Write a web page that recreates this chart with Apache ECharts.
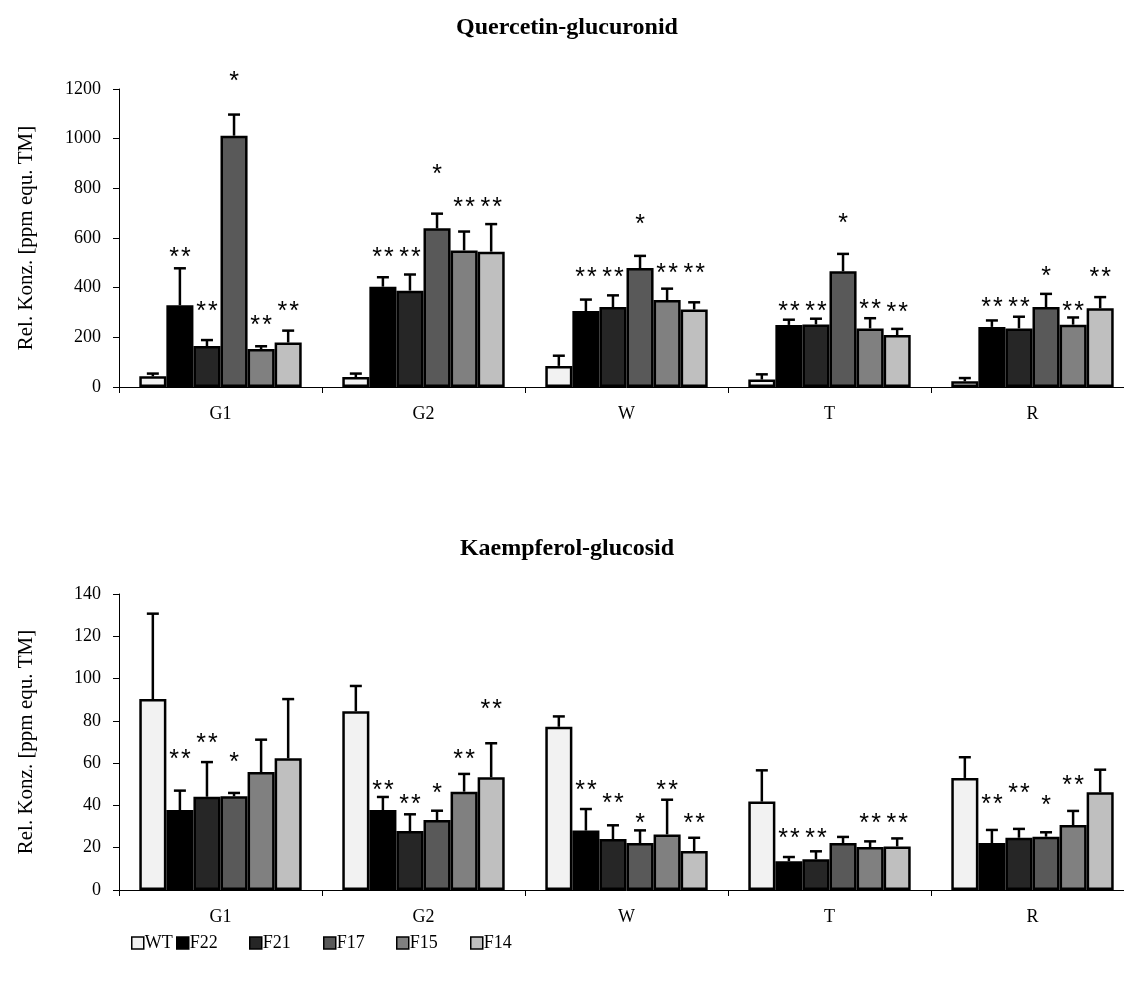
<!DOCTYPE html>
<html>
<head>
<meta charset="utf-8">
<script src="https://cdn.jsdelivr.net/npm/echarts@6/dist/echarts.min.js"></script>
<style>
html,body{margin:0;padding:0;background:#fff;overflow:hidden;}
#main{width:1134px;height:984px;}
</style>
</head>
<body>
<div id="main"></div>
<script>
// ---------- data ----------
const categories = ['G1', 'G2', 'W', 'T', 'R'];
const seriesNames = ['WT', 'F22', 'F21', 'F17', 'F15', 'F14'];
const yTicksTop = [0, 200, 400, 600, 800, 1000, 1200];
const yTicksBottom = [0, 20, 40, 60, 80, 100, 120, 140];

// Quercetin-glucuronid: means per line (across G1, G2, W, T, R)
const qWT  = [43, 40, 85, 30, 23];
const qF22 = [329, 404, 306, 250, 242];
const qF21 = [165, 388, 322, 252, 236];
const qF17 = [1012, 639, 479, 466, 322];
const qF15 = [153, 550, 350, 236, 251];
const qF14 = [179, 545, 312, 209, 317];
// standard deviations
const qWTsd  = [11, 14, 41, 21, 13];
const qF22sd = [149, 38, 46, 21, 26];
const qF21sd = [24, 65, 47, 23, 47];
const qF17sd = [85, 59, 49, 70, 53];
const qF15sd = [11, 76, 46, 41, 29];
const qF14sd = [48, 111, 29, 25, 45];
// significance marks and the level they are printed at
const qWTsig  = ['', '', '', '', ''];
const qF22sig = ['**', '**', '**', '**', '**'];
const qF21sig = ['**', '**', '**', '**', '**'];
const qF17sig = ['*', '*', '*', '*', '*'];
const qF15sig = ['**', '**', '**', '**', '**'];
const qF14sig = ['**', '**', '**', '**', '**'];
const qWTsigY  = [null, null, null, null, null];
const qF22sigY = [540, 540, 461, 322, 340];
const qF21sigY = [322, 540, 461, 322, 340];
const qF17sigY = [1248, 877, 674, 677, 465];
const qF15sigY = [269, 741, 477, 332, 322];
const qF14sigY = [322, 741, 477, 320, 461];

// Kaempferol-glucosid
const kWT  = [90.3, 84.5, 77.2, 41.8, 53.0];
const kF22 = [37.8, 37.8, 28.1, 13.6, 22.2];
const kF21 = [44.1, 27.9, 24.1, 14.5, 24.7];
const kF17 = [44.3, 33.1, 22.2, 22.2, 25.2];
const kF15 = [55.8, 46.5, 26.3, 20.3, 30.7];
const kF14 = [62.3, 53.3, 18.4, 20.6, 46.2];
const kWTsd  = [40.4, 12.0, 4.9, 14.8, 9.8];
const kF22sd = [9.2, 6.2, 10.2, 2.0, 6.2];
const kF21sd = [16.4, 7.9, 6.5, 3.8, 4.2];
const kF17sd = [1.6, 4.4, 6.0, 2.9, 2.1];
const kF15sd = [15.3, 8.4, 16.4, 2.7, 6.7];
const kF14sd = [28.0, 16.1, 6.3, 3.8, 10.7];
const kWTsig  = ['', '', '', '', ''];
const kF22sig = ['**', '**', '**', '**', '**'];
const kF21sig = ['**', '**', '**', '**', '**'];
const kF17sig = ['*', '*', '*', '', '*'];
const kF15sig = ['', '**', '**', '**', '**'];
const kF14sig = ['', '**', '**', '**', ''];
const kWTsigY  = [null, null, null, null, null];
const kF22sigY = [63.9, 49.2, 49.2, 26.8, 42.6];
const kF21sigY = [71.7, 42.6, 43.0, 26.8, 48.1];
const kF17sigY = [62.8, 48.1, 33.6, null, 42.2];
const kF15sigY = [null, 63.9, 49.2, 33.6, 51.6];
const kF14sigY = [null, 87.8, 33.6, 33.6, null];

// ---------- styling ----------
const colors = ['#f2f2f2', '#000000', '#262626', '#595959', '#808080', '#bfbfbf'];
const legendLeft = [131, 176, 249, 323, 396, 470];
const serif = '"Liberation Serif", "DejaVu Serif", serif';
const sans = '"Liberation Sans", Arial, sans-serif';
const catGap = 0.2; // barCategoryGap fraction
const starFont = 25;

const chartsDef = [
  {
    title: 'Quercetin-glucuronid',
    means: [qWT, qF22, qF21, qF17, qF15, qF14],
    sds: [qWTsd, qF22sd, qF21sd, qF17sd, qF15sd, qF14sd],
    sigs: [qWTsig, qF22sig, qF21sig, qF17sig, qF15sig, qF14sig],
    sigY: [qWTsigY, qF22sigY, qF21sigY, qF17sigY, qF15sigY, qF14sigY],
    ticks: yTicksTop,
    top: 89, height: 298, titleTop: 11
  },
  {
    title: 'Kaempferol-glucosid',
    means: [kWT, kF22, kF21, kF17, kF15, kF14],
    sds: [kWTsd, kF22sd, kF21sd, kF17sd, kF15sd, kF14sd],
    sigs: [kWTsig, kF22sig, kF21sig, kF17sig, kF15sig, kF14sig],
    sigY: [kWTsigY, kF22sigY, kF21sigY, kF17sigY, kF15sigY, kF14sigY],
    ticks: yTicksBottom,
    top: 594, height: 296, titleTop: 532
  }
];

const option = {
  animation: false,
  backgroundColor: '#ffffff',
  title: [],
  grid: [],
  xAxis: [],
  yAxis: [],
  legend: seriesNames.map((nm, i) => ({
    data: [nm],
    left: legendLeft[i],
    top: 934,
    padding: 0,
    itemWidth: 12,
    itemHeight: 12,
    icon: 'rect',
    itemStyle: { borderWidth: 1.5, borderColor: '#000' },
    textStyle: { fontFamily: serif, fontSize: 18, color: '#000', padding: [0, 0, 0, -4] }
  })),
  series: []
};

chartsDef.forEach((cd, gi) => {
  option.title.push({
    text: cd.title, left: 'center', top: cd.titleTop,
    textStyle: { fontFamily: serif, fontWeight: 'bold', fontSize: 24, color: '#000' }
  });
  option.grid.push({ left: 119, width: 1015, top: cd.top, height: cd.height, containLabel: false });
  option.xAxis.push({
    type: 'category', gridIndex: gi, data: categories,
    axisLine: { lineStyle: { color: '#000', width: 1 } },
    axisTick: { show: true, length: 6, lineStyle: { color: '#000' } },
    axisLabel: { fontFamily: serif, fontSize: 18, color: '#000', margin: 18 }
  });
  const tk = cd.ticks;
  option.yAxis.push({
    type: 'value', gridIndex: gi, min: tk[0], max: tk[tk.length - 1], interval: tk[1] - tk[0],
    name: 'Rel. Konz. [ppm equ. TM]', nameLocation: 'middle', nameGap: 82,
    nameTextStyle: { fontFamily: serif, fontSize: 21, color: '#000' },
    axisLine: { show: true, lineStyle: { color: '#000', width: 1 } },
    axisTick: { show: true, length: 6, lineStyle: { color: '#000' } },
    axisLabel: { fontFamily: serif, fontSize: 18, color: '#000', margin: 18, formatter: v => String(v) },
    splitLine: { show: false }
  });
  seriesNames.forEach((nm, si) => {
    option.series.push({
      type: 'bar', name: nm, xAxisIndex: gi, yAxisIndex: gi,
      data: cd.means[si],
      barGap: '0%', barCategoryGap: (catGap * 100) + '%',
      itemStyle: { color: colors[si], borderColor: '#000', borderWidth: 2.5 },
      z: 2
    });
  });
  // error bars + significance stars
  const items = [];
  seriesNames.forEach((nm, si) => {
    categories.forEach((c, ci) => {
      items.push({
        value: [ci, cd.means[si][ci], cd.means[si][ci] + cd.sds[si][ci], cd.sigY[si][ci] == null ? -1 : cd.sigY[si][ci], si],
        sig: cd.sigs[si][ci]
      });
    });
  });
  option.series.push({
    type: 'custom', xAxisIndex: gi, yAxisIndex: gi, z: 5, clip: false,
    encode: { x: 0, y: 2 },
    data: items.map(d => d.value),
    renderItem: function (params, api) {
      const ci = api.value(0), v = api.value(1), e = api.value(2), sy = api.value(3), si = api.value(4);
      const band = api.size([1, 0])[0];
      const barW = band * (1 - catGap) / 6;
      const cx = api.coord([ci, v])[0] + (si - 2.5) * barW;
      const yv = api.coord([ci, v])[1];
      const ye = api.coord([ci, e])[1];
      const cap = 6;
      const children = [
        { type: 'line', shape: { x1: cx, y1: yv, x2: cx, y2: ye }, style: { stroke: '#000', lineWidth: 2.5 } },
        { type: 'line', shape: { x1: cx - cap, y1: ye, x2: cx + cap, y2: ye }, style: { stroke: '#000', lineWidth: 2.5 } }
      ];
      const sig = items[params.dataIndex].sig;
      if (sig && sy >= 0) {
        const ys = api.coord([ci, sy])[1];
        children.push({
          type: 'text',
          style: {
            x: cx, y: ys + starFont * 0.22, text: sig.split('').join('\u200a'),
            align: 'center', verticalAlign: 'middle',
            font: starFont + 'px ' + sans, fill: '#000'
          }
        });
      }
      return { type: 'group', children: children };
    },
    silent: true,
    tooltip: { show: false }
  });
});

const chart = echarts.init(document.getElementById('main'), null, { renderer: 'canvas' });
chart.setOption(option);
</script>
</body>
</html>
